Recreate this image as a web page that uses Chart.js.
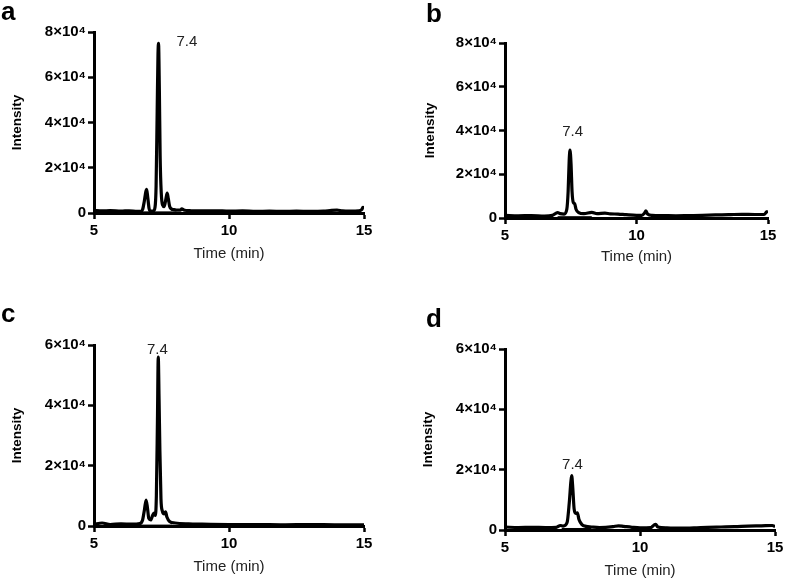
<!DOCTYPE html>
<html>
<head>
<meta charset="utf-8">
<script src="https://cdn.jsdelivr.net/npm/chart.js@4/dist/chart.umd.min.js"></script>
<style>
  html, body { margin: 0; padding: 0; background: #fff; }
  #wrap { position: relative; width: 787px; height: 583px; background: #fff; }
  .pane { position: absolute; }
</style>
</head>
<body>
<div id="wrap">
  <div class="pane" style="left:0px;top:0px;width:393px;height:290px"><canvas id="ca"></canvas></div>
  <div class="pane" style="left:400px;top:0px;width:387px;height:290px"><canvas id="cb"></canvas></div>
  <div class="pane" style="left:0px;top:290px;width:393px;height:293px"><canvas id="cc"></canvas></div>
  <div class="pane" style="left:400px;top:290px;width:387px;height:293px"><canvas id="cd"></canvas></div>
</div>
<script>
// ---------------- DATA ----------------
const xTicks = [5, 10, 15];
const peakLabel = "7.4";
const panelLetters = ["a", "b", "c", "d"];

const timeA = [5.0,5.3,5.6,6.0,6.3,6.6,6.75,6.8,6.86,6.92,6.95,6.99,7.04,7.1,7.2,7.26,7.3,7.34,7.37,7.39,7.42,7.45,7.49,7.54,7.6,7.66,7.71,7.75,7.8,7.87,7.95,8.05,8.2,8.25,8.35,8.6,9.0,9.5,10.0,10.5,11.0,11.5,12.0,12.5,13.0,13.5,13.8,14.0,14.2,14.5,14.8,14.92,14.96,15.0];
const intensityA = [1200,900,1100,800,1000,700,800,1500,5000,9500,10500,7000,2000,800,900,2500,12000,45000,70000,75000,55000,25000,9000,3500,2800,6000,8800,6500,3000,1800,1500,1300,1300,1800,1200,1000,900,1000,800,900,700,800,700,800,700,800,1200,1300,900,800,900,1500,2500,2000];
const baseTimeA = [6.75, 8.05];
const baseA = [500, 500];

const timeB = [5.0,5.5,6.0,6.5,6.8,7.0,7.1,7.25,7.35,7.40,7.44,7.47,7.51,7.55,7.6,7.65,7.7,7.8,8.0,8.3,8.5,8.8,9.0,9.3,9.6,10.0,10.2,10.3,10.36,10.42,10.6,11.0,11.5,12.0,12.5,13.0,13.5,14.0,14.5,14.85,14.95,15.0];
const intensityB = [1200,1000,1100,900,1200,2500,2000,1800,4000,12000,26000,31000,25000,12000,7000,6500,4000,2500,2000,2600,2000,2200,1900,1800,1500,1200,1200,2200,3300,1800,1200,1100,1000,1100,1200,1400,1500,1700,1600,1600,2800,3000];
const baseTimeB = [7.0, 8.3];
const baseB = [600, 600];

const timeC = [5.0,5.3,5.6,6.0,6.4,6.7,6.8,6.87,6.93,6.98,7.03,7.1,7.17,7.22,7.27,7.31,7.35,7.38,7.41,7.44,7.48,7.53,7.6,7.65,7.7,7.8,8.0,8.5,9.0,10.0,11.0,12.0,13.0,14.0,15.0];
const intensityC = [600,1000,500,700,600,800,2000,5500,8600,6000,2500,2000,3500,4300,3500,10000,35000,56000,42000,25000,9000,5000,4000,4700,3000,1500,1000,700,600,500,500,400,500,400,400];
const baseTimeC = [6.75, 7.9];
const baseC = [300, 300];

const timeD = [5.0,5.5,6.0,6.5,6.9,7.05,7.15,7.3,7.38,7.44,7.47,7.51,7.56,7.62,7.68,7.74,7.85,8.0,8.2,8.5,9.0,9.2,9.4,9.7,10.0,10.4,10.5,10.58,10.66,11.0,11.5,12.0,12.5,13.0,13.5,14.0,14.5,14.9,15.0];
const intensityD = [1000,800,900,800,900,1500,1300,2500,9000,16000,18000,14000,7000,5500,5700,3500,1800,1200,1000,800,1100,1400,1200,900,700,800,1500,1900,1000,700,600,700,900,1000,1100,1300,1400,1500,1100];
const baseTimeD = [7.1, 8.2];
const baseD = [500, 500];

const yMaxAB = 80000;
const yMaxCD = 60000;

// ---------------- LAYOUT ----------------
const FONT = "'Liberation Sans', Arial, Helvetica, sans-serif";

const panels = [
  { id: "ca", t: timeA, v: intensityA, bt: baseTimeA, bv: baseA, yMax: yMaxAB, letter: panelLetters[0],
    yW: 94, xH: 77, padTop: 32, padRight: 29, xTitlePad: 27, yTitlePad: 9,
    letterPos: [1, 20], labelAt: [8.44, 75580] },
  { id: "cb", t: timeB, v: intensityB, bt: baseTimeB, bv: baseB, yMax: yMaxAB, letter: panelLetters[1],
    yW: 105, xH: 72, padTop: 43, padRight: 19, xTitlePad: 24, yTitlePad: 22,
    letterPos: [26, 22], labelAt: [7.57, 39300] },
  { id: "cc", t: timeC, v: intensityC, bt: baseTimeC, bv: baseC, yMax: yMaxCD, letter: panelLetters[2],
    yW: 94, xH: 57, padTop: 55, padRight: 29, xTitlePad: 7, yTitlePad: 9,
    letterPos: [1, 32], labelAt: [7.35, 58300] },
  { id: "cd", t: timeD, v: intensityD, bt: baseTimeD, bv: baseD, yMax: yMaxCD, letter: panelLetters[3],
    yW: 105, xH: 53, padTop: 59, padRight: 12, xTitlePad: 3, yTitlePad: 20,
    letterPos: [26, 37], labelAt: [7.5, 21500] }
];

function fmtY(v) {
  if (v === 0) return "0";
  return (v / 10000) + "\u00d710\u2074";
}

const textPlugin = {
  id: "panelText",
  afterDraw(chart, args, o) {
    const ctx = chart.ctx;
    ctx.save();
    ctx.fillStyle = "#000";
    ctx.font = "bold 26px " + FONT;
    ctx.textAlign = "left";
    ctx.textBaseline = "alphabetic";
    ctx.fillText(o.letter, o.letterPos[0], o.letterPos[1]);
    const px = chart.scales.x.getPixelForValue(o.labelAt[0]);
    const py = chart.scales.y.getPixelForValue(o.labelAt[1]);
    ctx.font = "15px " + FONT;
    ctx.fillStyle = "#222";
    ctx.textAlign = "center";
    ctx.textBaseline = "middle";
    ctx.fillText(peakLabel, px, py);
    ctx.restore();
  }
};

panels.forEach(p => {
  const pts = p.t.map((t, i) => ({ x: t, y: p.v[i] }));
  const bpts = p.bt.map((t, i) => ({ x: t, y: p.bv[i] }));
  new Chart(document.getElementById(p.id), {
    type: "line",
    data: { datasets: [
      { data: bpts, borderColor: "#000", borderWidth: 1, pointRadius: 0, fill: false },
      { data: pts, borderColor: "#000", borderWidth: 3.2,
        pointRadius: 0, cubicInterpolationMode: "monotone", fill: false }
    ] },
    options: {
      responsive: true, maintainAspectRatio: false, animation: false,
      devicePixelRatio: 1,
      layout: { padding: { left: 0, top: p.padTop, right: p.padRight, bottom: 0 } },
      plugins: { legend: { display: false }, tooltip: { enabled: false },
        panelText: { letter: p.letter, letterPos: p.letterPos, labelAt: p.labelAt } },
      scales: {
        x: {
          type: "linear", min: 5, max: 15,
          afterBuildTicks: s => { s.ticks = xTicks.map(v => ({ value: v })); },
          afterFit: s => { s.height = p.xH; },
          border: { display: true, color: "#000", width: 3 },
          grid: { drawOnChartArea: false, drawTicks: true, tickLength: 6, tickWidth: 2.5, tickColor: "#000" },
          ticks: { color: "#000", padding: 3, maxRotation: 0, font: { family: FONT, size: 15, weight: "bold" } },
          title: { display: true, text: "Time (min)", color: "#222",
            font: { family: FONT, size: 15 }, padding: { top: 0, bottom: p.xTitlePad } }
        },
        y: {
          min: 0, max: p.yMax,
          ticks: { stepSize: 20000, color: "#000", padding: 2, callback: fmtY,
            font: { family: FONT, size: 15, weight: "bold" } },
          afterFit: s => { s.width = p.yW; },
          border: { display: true, color: "#000", width: 3 },
          grid: { drawOnChartArea: false, drawTicks: true, tickLength: 6, tickWidth: 2.5, tickColor: "#000" },
          title: { display: true, text: "Intensity", color: "#000",
            font: { family: FONT, size: 13.5, weight: "bold" }, padding: { top: p.yTitlePad, bottom: 0 } }
        }
      }
    },
    plugins: [textPlugin]
  });
});
</script>
</body>
</html>
